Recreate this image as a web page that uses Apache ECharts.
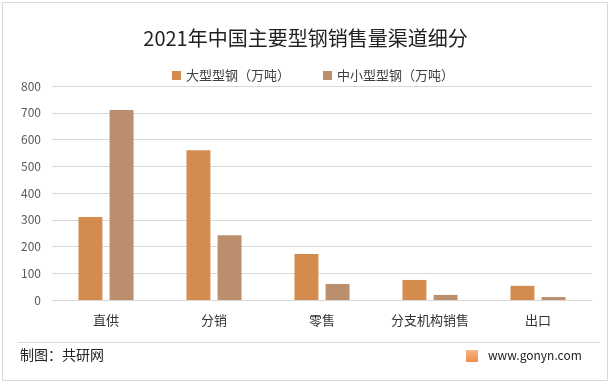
<!DOCTYPE html>
<html><head><meta charset="utf-8">
<script src="https://cdn.jsdelivr.net/npm/echarts@6/dist/echarts.min.js"></script>
<style>html,body{margin:0;padding:0;background:#fff}#c{width:611px;height:384px}</style>
</head><body><div id="c"></div>
<script>
const categories = ['直供','分销','零售','分支机构销售','出口'];
const largeSteel = [310, 560, 172, 75, 53];
const smallMidSteel = [710, 242, 60, 19, 11];
const yTicks = [0,100,200,300,400,500,600,700,800];
const seriesNames = ['大型型钢（万吨）','中小型型钢（万吨）'];

const chart = echarts.init(document.getElementById('c'));
const ff = '"Noto Sans CJK SC","Microsoft YaHei",sans-serif';
chart.setOption({
  backgroundColor:'#fff',
  animation:false,
  title:{text:'2021年中国主要型钢销售量渠道细分',left:'center',top:23,
    textStyle:{fontFamily:ff,fontSize:20,fontWeight:'normal',color:'#222'}},
  legend:{top:64,left:167,itemWidth:9,itemHeight:9,itemGap:33,icon:'rect',
    textStyle:{fontFamily:ff,fontSize:13,color:'#404040'},data:seriesNames},
  grid:{left:52,right:19,top:86,bottom:84},
  xAxis:{type:'category',data:categories,
    axisLine:{lineStyle:{color:'#d9d9d9'}},axisTick:{show:false},
    axisLabel:{fontFamily:ff,fontSize:13,color:'#333',margin:14}},
  yAxis:{type:'value',min:yTicks[0],max:yTicks[yTicks.length-1],interval:100,
    axisLine:{show:false},axisTick:{show:false},
    splitLine:{lineStyle:{color:'#d9d9d9'}},
    axisLabel:{fontFamily:ff,fontSize:12,color:'#595959',margin:11}},
  series:[
    {name:seriesNames[0],type:'bar',data:largeSteel,barGap:'30%',barCategoryGap:'49%',
      itemStyle:{color:'#D48C4E'}},
    {name:seriesNames[1],type:'bar',data:smallMidSteel,
      itemStyle:{color:'#BB8F6D'}}
  ],
  graphic:[
    {type:'rect',shape:{x:2.5,y:2.5,width:605,height:378},style:{fill:'none',stroke:'#d9d9d9',lineWidth:1},silent:true},
    {type:'line',shape:{x1:18,y1:342.5,x2:600,y2:342.5},style:{stroke:'#d9d9d9',lineWidth:1}},
    {type:'text',left:20,top:348,style:{text:'制图：共研网',font:'14px '+ff,fill:'#222'}},
    {type:'rect',shape:{x:466,y:350,width:12,height:12},style:{fill:new echarts.graphic.LinearGradient(0,0,0,1,[{offset:0,color:'#F6B58A'},{offset:1,color:'#F08C46'}])}},
    {type:'text',left:488,top:349,style:{text:'www.gonyn.com',font:'12px '+ff,fill:'#222'}}
  ]
});
</script></body></html>
